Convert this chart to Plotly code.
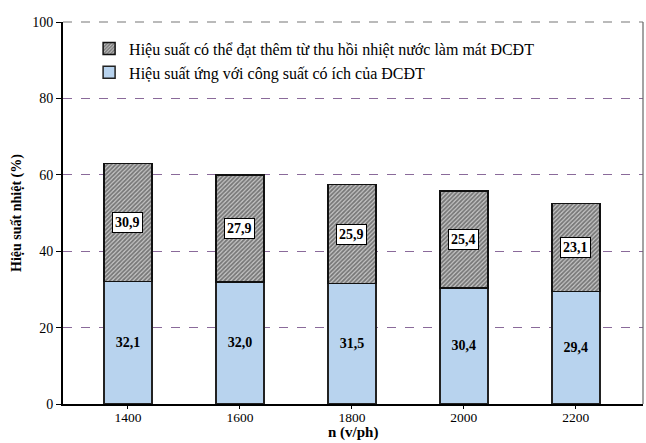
import plotly.graph_objects as go

speeds = ["1400", "1600", "1800", "2000", "2200"]
useful_eff = [32.1, 32.0, 31.5, 30.4, 29.4]
recover_eff = [30.9, 27.9, 25.9, 25.4, 23.1]

name_useful = "Hiệu suất ứng với công suất có ích của ĐCĐT"
name_recover = "Hiệu suất có thể đạt thêm từ thu hồi nhiệt nước làm mát ĐCĐT"

serif = "Liberation Serif"


def fmt(v):
    return f"<b>{v:.1f}</b>".replace(".", ",")


fig = go.Figure()

fig.add_trace(go.Bar(
    x=speeds, y=useful_eff, name=name_useful,
    marker=dict(color="#B8D3EE", line=dict(color="#222", width=1.5)),
    width=0.43,
    text=[fmt(v) for v in useful_eff],
    textposition="inside", insidetextanchor="middle",
    textfont=dict(family=serif, size=14, color="black"),
))

fig.add_trace(go.Bar(
    x=speeds, y=recover_eff, name=name_recover,
    marker=dict(
        color="#808080",
        line=dict(color="#111", width=1.5),
        pattern=dict(shape="/", fgcolor="#262626", bgcolor="#c8c8c8",
                     size=3, solidity=0.6),
    ),
    width=0.43,
))

# Value boxes in the hatched segments (category axis -> index positions)
for i, (base, v) in enumerate(zip(useful_eff, recover_eff)):
    fig.add_annotation(
        x=i, y=base + v / 2, xref="x", yref="y", text=fmt(v),
        showarrow=False, font=dict(family=serif, size=14, color="black"),
        bgcolor="white", bordercolor="black", borderwidth=1, borderpad=2,
    )

# X axis title
fig.add_annotation(
    x=0.5, y=-0.1, xref="paper", yref="paper", yanchor="bottom",
    text="<b>n (v/ph)</b>", showarrow=False, borderpad=0,
    font=dict(family=serif, size=15, color="black"),
)

# Plot frame: dashed top, solid right
fig.add_shape(type="line", xref="paper", yref="paper", x0=0, x1=1, y0=1, y1=1,
              line=dict(color="#777", width=1.2, dash="dash"))
fig.add_shape(type="line", xref="paper", yref="paper", x0=1, x1=1, y0=0, y1=1,
              line=dict(color="#666", width=1.2))

fig.update_layout(
    width=646, height=443,
    margin=dict(l=63, r=3, t=22, b=39),
    paper_bgcolor="white", plot_bgcolor="white",
    barmode="stack",
    separators=",.",
    font=dict(family=serif, size=13, color="black"),
    showlegend=True,
    legend=dict(
        x=0.045, y=0.975, xanchor="left", yanchor="top",
        traceorder="reversed", bgcolor="rgba(0,0,0,0)",
        font=dict(family=serif, size=16, color="black"),
        itemwidth=30, tracegroupgap=0,
    ),
    xaxis=dict(
        type="category", range=[-0.58, 4.6],
        showline=True, linecolor="black", linewidth=2,
        ticks="outside", ticklen=3, tickcolor="black",
        ticklabelstandoff=-3,
        tickfont=dict(family=serif, size=13.5),
        showgrid=False,
    ),
    yaxis=dict(
        range=[0, 100], dtick=20,
        showline=True, linecolor="black", linewidth=2,
        ticks="outside", ticklen=5, tickcolor="black",
        tickfont=dict(family=serif, size=14),
        showgrid=True, gridcolor="#8a6a9a", griddash="dash", gridwidth=1.2,
        zeroline=False,
        title=dict(text="<b>Hiệu suất nhiệt (%)</b>", font=dict(family=serif, size=14), standoff=7),
    ),
)

fig.write_html("out.html")
